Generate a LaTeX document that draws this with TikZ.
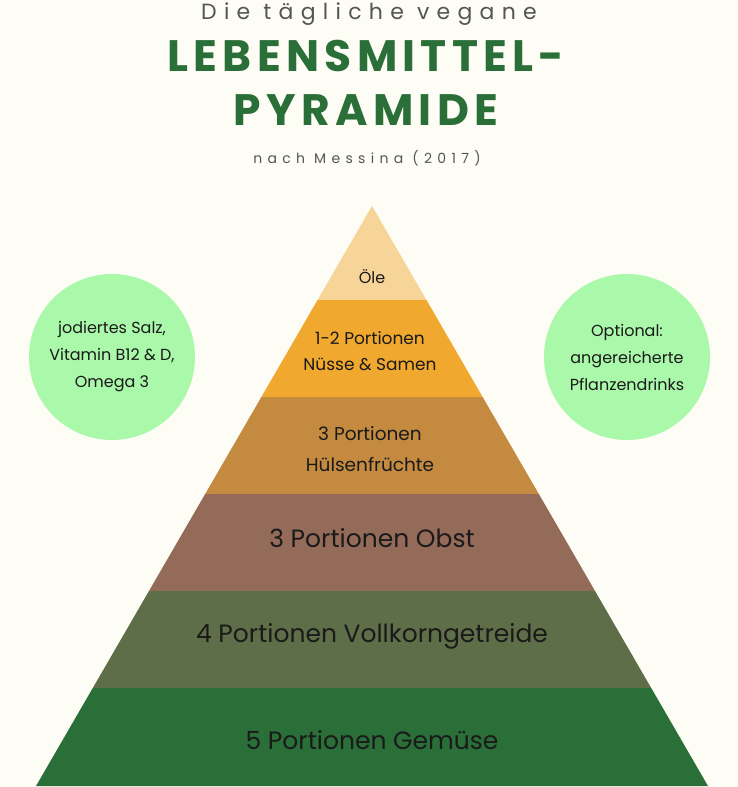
\documentclass[tikz,border=0pt]{standalone}
\usepackage{fontspec}
\setmainfont{Poppins}
\usepackage{xcolor}
\definecolor{bgcol}{HTML}{FDFDF6}
\definecolor{titlegreen}{HTML}{2A6E38}
\definecolor{titlegray}{HTML}{555555}
\definecolor{txtcol}{HTML}{1A1A1A}
\definecolor{circcol}{HTML}{AAF8AA}
\definecolor{oel}{HTML}{F7D497}
\definecolor{nuss}{HTML}{F0A82E}
\definecolor{huelse}{HTML}{C38A40}
\definecolor{obst}{HTML}{946A58}
\definecolor{korn}{HTML}{5E6E48}
\definecolor{gemuese}{HTML}{2A6E38}
\tikzset{
  lvl/.style={text=txtcol,align=center,inner sep=0pt},
  bubble/.style={circle,fill=circcol,minimum size=166pt,inner sep=0pt,
    text=txtcol,align=center,font=\fontsize{16}{27}\selectfont}
}
\begin{document}
\begin{tikzpicture}[x=1pt,y=-1pt]
    \useasboundingbox (0,0) rectangle (738,787);
    \fill[bgcol] (0,0) rectangle (738,787);

    % title
    \node[text=titlegray,font=\fontsize{22}{22}\selectfont\addfontfeatures{LetterSpace=33}] (t1) at (369,14) {Die tägliche vegane};
    \node[text=titlegreen,font=\fontsize{44}{44}\bfseries\selectfont\addfontfeatures{LetterSpace=12}] (t2) at (366,56) {LEBENSMITTEL-};
    \node[text=titlegreen,font=\fontsize{44}{44}\bfseries\selectfont\addfontfeatures{LetterSpace=12}] (t3) at (366,110) {PYRAMIDE};
    \node[text=titlegray,font=\fontsize{14}{14}\selectfont\addfontfeatures{LetterSpace=38}] (t4) at (367,158) {nach Messina (2017)};

    % pyramid
    \fill[oel] (372,206) -- ({372-0.5793*94},300) -- ({372+0.5793*94},300) -- cycle;
    \foreach \ya/\yb/\col in {300/397/nuss,397/494/huelse,494/591/obst,591/688/korn,688/786/gemuese}{
        \fill[\col] ({372-0.5793*(\ya-206)},\ya) -- ({372+0.5793*(\ya-206)},\ya)
            -- ({372+0.5793*(\yb-206)},\yb) -- ({372-0.5793*(\yb-206)},\yb) -- cycle;
    }

    \node[lvl,font=\fontsize{16}{16}\selectfont] (l1) at (372,277) {Öle};
    \node[lvl,font=\fontsize{17}{26}\selectfont] (l2) at (370,351) {1-2 Portionen\\Nüsse \& Samen};
    \node[lvl,font=\fontsize{18.5}{31}\selectfont] (l3) at (370,449) {3 Portionen\\Hülsenfrüchte};
    \node[lvl,font=\fontsize{25}{25}\selectfont] (l4) at (372,538) {3 Portionen Obst};
    \node[lvl,font=\fontsize{25}{25}\selectfont] (l5) at (372,636) {4 Portionen Vollkorngetreide};
    \node[lvl,font=\fontsize{25}{25}\selectfont] (l6) at (372,740) {5 Portionen Gemüse};

    % side notes
    \node[bubble] (c1) at (112,357) {jodiertes Salz,\\Vitamin B12 \& D,\\Omega 3};
    \node[bubble] (c2) at (627,357) {Optional:\\angereicherte\\Pflanzendrinks};
\end{tikzpicture}
\end{document}
